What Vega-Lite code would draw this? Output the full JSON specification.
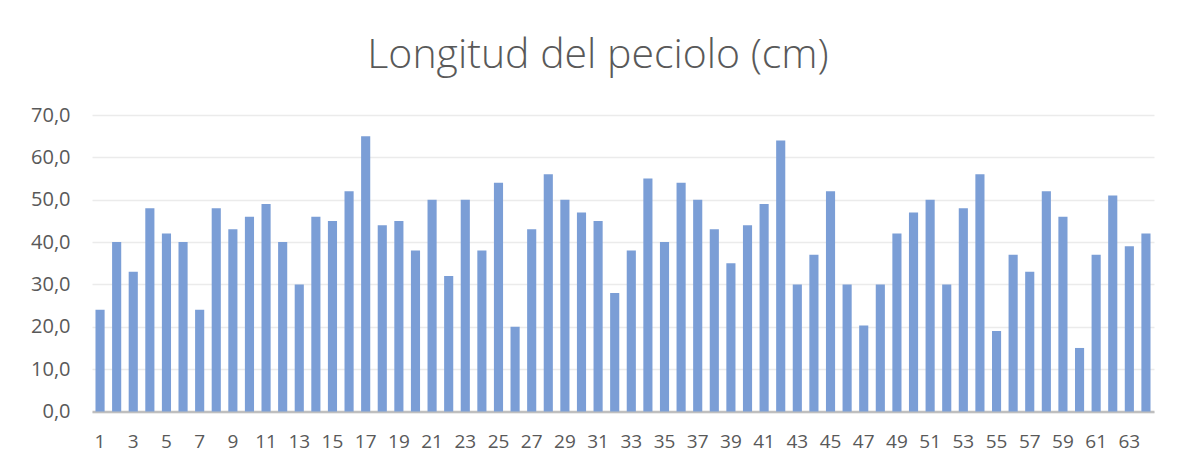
{
  "$schema": "https://vega.github.io/schema/vega-lite/v6.json",
  "autosize": {"type": "none"},
  "width": 1062,
  "height": 296.5,
  "padding": {"left": 92, "top": 115, "right": 26, "bottom": 55.5},
  "background": "white",
  "title": {
    "text": "Longitud del peciolo (cm)",
    "font": "Open Sans",
    "fontSize": 41,
    "fontWeight": 300,
    "color": "#595959",
    "anchor": "middle",
    "baseline": "alphabetic",
    "dx": -25,
    "offset": -4
  },
  "data": {
    "values": [
      {"n": 1, "v": 24}, {"n": 2, "v": 40}, {"n": 3, "v": 33}, {"n": 4, "v": 48},
      {"n": 5, "v": 42}, {"n": 6, "v": 40}, {"n": 7, "v": 24}, {"n": 8, "v": 48},
      {"n": 9, "v": 43}, {"n": 10, "v": 46}, {"n": 11, "v": 49}, {"n": 12, "v": 40},
      {"n": 13, "v": 30}, {"n": 14, "v": 46}, {"n": 15, "v": 45}, {"n": 16, "v": 52},
      {"n": 17, "v": 65}, {"n": 18, "v": 44}, {"n": 19, "v": 45}, {"n": 20, "v": 38},
      {"n": 21, "v": 50}, {"n": 22, "v": 32}, {"n": 23, "v": 50}, {"n": 24, "v": 38},
      {"n": 25, "v": 54}, {"n": 26, "v": 20}, {"n": 27, "v": 43}, {"n": 28, "v": 56},
      {"n": 29, "v": 50}, {"n": 30, "v": 47}, {"n": 31, "v": 45}, {"n": 32, "v": 28},
      {"n": 33, "v": 38}, {"n": 34, "v": 55}, {"n": 35, "v": 40}, {"n": 36, "v": 54},
      {"n": 37, "v": 50}, {"n": 38, "v": 43}, {"n": 39, "v": 35}, {"n": 40, "v": 44},
      {"n": 41, "v": 49}, {"n": 42, "v": 64}, {"n": 43, "v": 30}, {"n": 44, "v": 37},
      {"n": 45, "v": 52}, {"n": 46, "v": 30}, {"n": 47, "v": 20.3}, {"n": 48, "v": 30},
      {"n": 49, "v": 42}, {"n": 50, "v": 47}, {"n": 51, "v": 50}, {"n": 52, "v": 30},
      {"n": 53, "v": 48}, {"n": 54, "v": 56}, {"n": 55, "v": 19}, {"n": 56, "v": 37},
      {"n": 57, "v": 33}, {"n": 58, "v": 52}, {"n": 59, "v": 46}, {"n": 60, "v": 15},
      {"n": 61, "v": 37}, {"n": 62, "v": 51}, {"n": 63, "v": 39}, {"n": 64, "v": 42}
    ]
  },
  "mark": {"type": "bar", "color": "#7B9ED6"},
  "encoding": {
    "x": {
      "field": "n",
      "type": "ordinal",
      "sort": null,
      "scale": {"paddingInner": 0.45, "paddingOuter": 0.21},
      "axis": {
        "title": null,
        "labelAngle": 0,
        "values": [1,3,5,7,9,11,13,15,17,19,21,23,25,27,29,31,33,35,37,39,41,43,45,47,49,51,53,55,57,59,61,63],
        "labelFont": "Open Sans",
        "labelFontSize": 19,
        "labelColor": "#595959",
        "labelPadding": 21,
        "ticks": false,
        "domainColor": "#BFBFBF",
        "domainWidth": 2.5,
        "grid": false
      }
    },
    "y": {
      "field": "v",
      "type": "quantitative",
      "scale": {"domain": [0, 70], "nice": false},
      "axis": {
        "title": null,
        "values": [0, 10, 20, 30, 40, 50, 60, 70],
        "labelExpr": "replace(format(datum.value, '.1f'), '.', ',')",
        "labelFont": "Open Sans",
        "labelFontSize": 20,
        "labelColor": "#595959",
        "labelPadding": 22,
        "ticks": false,
        "domain": false,
        "gridColor": "#EBEBEB",
        "gridWidth": 1.3
      }
    }
  },
  "config": {"view": {"stroke": null}}
}
